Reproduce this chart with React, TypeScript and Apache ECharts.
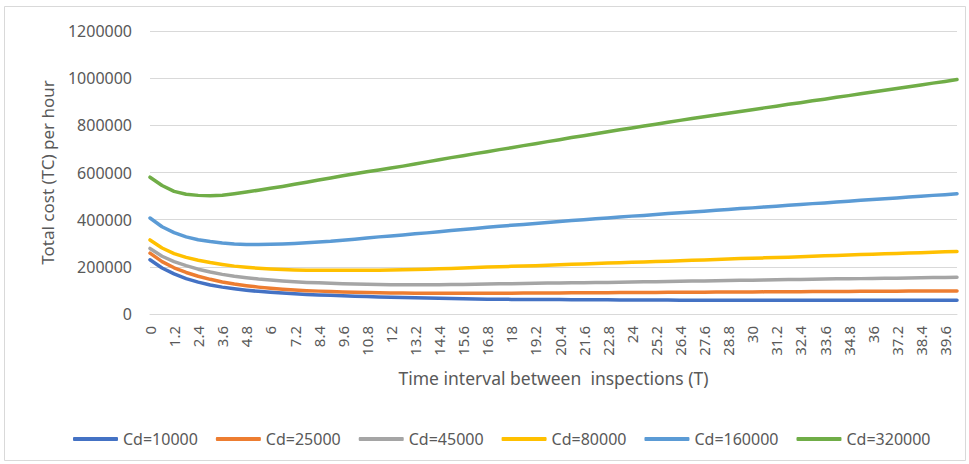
import React, { useEffect, useRef } from "react";
import * as echarts from "echarts";

// Inspection interval T (hours), one point every 0.6
const intervals: string[] = [
  "0", "0.6", "1.2", "1.8", "2.4", "3", "3.6", "4.2", "4.8", "5.4",
  "6", "6.6", "7.2", "7.8", "8.4", "9", "9.6", "10.2", "10.8", "11.4",
  "12", "12.6", "13.2", "13.8", "14.4", "15", "15.6", "16.2", "16.8", "17.4",
  "18", "18.6", "19.2", "19.8", "20.4", "21", "21.6", "22.2", "22.8", "23.4",
  "24", "24.6", "25.2", "25.8", "26.4", "27", "27.6", "28.2", "28.8", "29.4",
  "30", "30.6", "31.2", "31.8", "32.4", "33", "33.6", "34.2", "34.8", "35.4",
  "36", "36.6", "37.2", "37.8", "38.4", "39", "39.6", "40.2",
];

// Total cost per hour, in thousands, for each downtime cost Cd
const cd10000: number[] = [
  230, 195, 170, 150, 135, 123, 114, 107, 101, 96,
  92, 89, 86, 83, 81, 79, 77, 75, 74, 72,
  71, 70, 69, 68, 67, 66, 65, 64, 63, 63,
  62, 62, 61, 61, 61, 60, 60, 60, 60, 59,
  59, 59, 59, 59, 58, 58, 58, 58, 58, 58,
  58, 58, 58, 58, 58, 58, 58, 58, 58, 58,
  58, 58, 58, 58, 58, 58, 58, 58,
];

const cd25000: number[] = [
  258, 222, 196, 176, 160, 147, 136, 127, 120, 114,
  109, 105, 102, 99, 97, 95, 93, 92, 91, 90,
  89, 89, 88, 88, 88, 88, 88, 88, 88, 88,
  88, 89, 89, 89, 89, 90, 90, 90, 90, 91,
  91, 91, 91, 92, 92, 92, 92, 93, 93, 93,
  93, 94, 94, 94, 94, 95, 95, 95, 95, 96,
  96, 96, 96, 97, 97, 97, 97, 98,
];

const cd45000: number[] = [
  278, 245, 222, 205, 190, 178, 168, 160, 154, 148,
  144, 140, 137, 134, 132, 130, 128, 127, 126, 125,
  124, 124, 124, 124, 124, 125, 125, 126, 127, 128,
  128, 129, 130, 131, 131, 132, 133, 134, 134, 135,
  136, 137, 137, 138, 139, 140, 140, 141, 142, 143,
  143, 144, 145, 146, 146, 147, 148, 149, 149, 150,
  151, 152, 152, 153, 154, 155, 155, 156,
];

const cd80000: number[] = [
  314, 280, 256, 240, 228, 218, 210, 203, 198, 194,
  191, 189, 187, 186, 185, 185, 185, 185, 186, 186,
  187, 188, 189, 190, 192, 193, 195, 197, 199, 200,
  202, 204, 205, 207, 209, 211, 212, 214, 216, 217,
  219, 221, 223, 224, 226, 228, 229, 231, 233, 235,
  236, 238, 240, 241, 243, 245, 247, 248, 250, 252,
  253, 255, 257, 259, 260, 262, 264, 265,
];

const cd160000: number[] = [
  407, 370, 345, 327, 315, 307, 301, 297, 295, 295,
  296, 297, 299, 302, 305, 308, 313, 317, 322, 327,
  331, 335, 340, 344, 349, 354, 358, 363, 368, 372,
  376, 380, 384, 388, 392, 396, 400, 404, 407, 411,
  415, 418, 422, 426, 429, 433, 436, 440, 443, 447,
  450, 454, 457, 461, 464, 468, 471, 475, 478, 482,
  485, 489, 492, 496, 499, 503, 506, 510,
];

const cd320000: number[] = [
  580, 545, 520, 508, 503, 501, 504, 510, 517, 525,
  533, 541, 550, 559, 568, 577, 586, 595, 603, 611,
  619, 627, 636, 645, 654, 663, 671, 680, 688, 697,
  705, 714, 722, 731, 739, 748, 756, 764, 773, 781,
  789, 797, 805, 813, 821, 829, 836, 844, 851, 859,
  866, 874, 881, 889, 896, 904, 911, 919, 926, 934,
  941, 949, 956, 964, 971, 979, 986, 994,
];

const seriesNames: string[] = [
  "Cd=10000", "Cd=25000", "Cd=45000", "Cd=80000", "Cd=160000", "Cd=320000",
];
const seriesValues: number[][] = [cd10000, cd25000, cd45000, cd80000, cd160000, cd320000];
const seriesColors: string[] = ["#4472C4", "#ED7D31", "#A5A5A5", "#FFC000", "#5B9BD5", "#70AD47"];

const FONT = "'Noto Sans', 'Open Sans', sans-serif";
const TEXT = "#595959";

export default function App() {
  const ref = useRef<HTMLDivElement>(null);

  useEffect(() => {
    if (!ref.current) return;
    const chart = echarts.init(ref.current, undefined, { renderer: "svg" });

    chart.setOption({
      animation: false,
      backgroundColor: "#ffffff",
      textStyle: { fontFamily: FONT, color: TEXT },
      graphic: [
        {
          type: "rect",
          shape: { x: 4.5, y: 6.5, width: 961, height: 454 },
          style: { fill: "none", stroke: "#D9D9D9", lineWidth: 1 },
          silent: true,
          z: -1,
        },
      ],
      grid: { left: 150, right: 12, top: 31, bottom: 150, containLabel: false },
      legend: {
        data: seriesNames,
        top: 426,
        left: 68,
        icon: "roundRect",
        itemWidth: 45,
        itemHeight: 4,
        itemGap: 18,
        textStyle: { fontFamily: FONT, fontSize: 16, color: TEXT },
      },
      xAxis: {
        type: "category",
        data: intervals,
        boundaryGap: false,
        name: "Time interval between  inspections (T)",
        nameLocation: "middle",
        nameGap: 55,
        nameTextStyle: { fontFamily: FONT, fontSize: 17.5, color: TEXT },
        axisLine: { lineStyle: { color: "#D9D9D9", width: 1 } },
        axisTick: { show: false },
        axisLabel: {
          interval: 1,
          rotate: 90,
          margin: 12,
          fontFamily: FONT,
          fontSize: 15,
          color: TEXT,
        },
      },
      yAxis: {
        type: "value",
        min: 0,
        max: 1200000,
        interval: 200000,
        name: "Total cost (TC) per hour",
        nameLocation: "middle",
        nameGap: 94,
        nameTextStyle: { fontFamily: FONT, fontSize: 17, color: TEXT },
        axisLine: { show: false },
        axisTick: { show: false },
        axisLabel: {
          margin: 18,
          fontFamily: FONT,
          fontSize: 16,
          color: TEXT,
          formatter: (v: number) => String(v),
        },
        splitLine: { lineStyle: { color: "#D9D9D9", width: 1 } },
      },
      series: seriesNames.map((name, i) => ({
        name,
        type: "line",
        data: seriesValues[i].map((v) => v * 1000),
        showSymbol: false,
        symbol: "none",
        smooth: false,
        color: seriesColors[i],
        lineStyle: { width: 3.5, color: seriesColors[i], cap: "round", join: "round" },
        z: 2 + i,
      })),
    });

    return () => chart.dispose();
  }, []);

  return <div ref={ref} style={{ width: 969, height: 464, position: "absolute", left: 0, top: 0 }} />;
}
